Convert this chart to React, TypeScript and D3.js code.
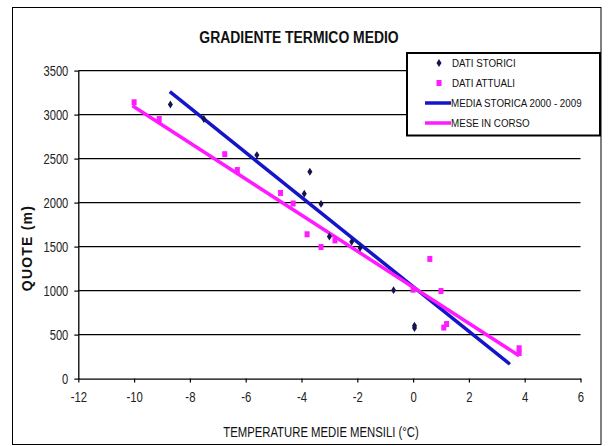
import { useRef, useEffect } from 'react';
import * as d3 from 'd3';

const W = 609;
const H = 446;
const PLOT = { left: 78.3, right: 580.5, top: 70.6, bottom: 378.6 };
const FONT = "'Liberation Sans', Arial, sans-serif";

// DATI STORICI (temperatura media mensile, quota)
const storiciT = [-8.7, -7.5, -5.6, -3.7, -3.9, -3.3, -3.0, -2.2, -1.9, -0.7, 0.05, 0.05];
const storiciQ = [3115, 2950, 2540, 2350, 2100, 1985, 1615, 1555, 1485, 1005, 600, 575];

// DATI ATTUALI
const attualiT = [-10.0, -9.1, -6.75, -6.3, -4.75, -4.3, -3.8, -3.3, -2.8, 0.0, 0.6, 1.0, 1.1, 1.2, 3.8, 3.8];
const attualiQ = [3140, 2950, 2550, 2370, 2110, 1990, 1640, 1495, 1570, 1010, 1360, 995, 580, 620, 345, 290];

// trend lines (end points)
const mediaStoricaT = [-8.72, 3.47];
const mediaStoricaQ = [3260, 163];
const meseT = [-10.06, 3.8];
const meseQ = [3100, 260];

const xTicks = [-12, -10, -8, -6, -4, -2, 0, 2, 4, 6];
const yTicks = [0, 500, 1000, 1500, 2000, 2500, 3000, 3500];

const legendLabels = ['DATI STORICI', 'DATI ATTUALI', 'MEDIA STORICA 2000 - 2009', 'MESE IN CORSO'];

const BLUE = '#1414c8';
const PINK = '#ff1aff';
const NAVY = '#141450';

export default function App() {
  const svgRef = useRef<SVGSVGElement>(null);

  useEffect(() => {
    const svg = d3.select(svgRef.current);
    svg.selectAll('*').remove();

    const x = d3.scaleLinear().domain([-12, 6]).range([PLOT.left, PLOT.right]);
    const y = d3.scaleLinear().domain([0, 3500]).range([PLOT.bottom, PLOT.top]);

    svg.append('rect').attr('width', W).attr('height', H).attr('fill', '#fff');
    svg.append('rect')
      .attr('x', 12.5).attr('y', 7.5).attr('width', 588.5).attr('height', 437)
      .attr('fill', 'none').attr('stroke', '#000').attr('stroke-width', 1);

    // gridlines
    svg.append('g').selectAll('line').data(yTicks.filter(d => d > 0)).enter()
      .append('line')
      .attr('x1', PLOT.left).attr('x2', PLOT.right)
      .attr('y1', d => y(d)).attr('y2', d => y(d))
      .attr('stroke', '#000').attr('stroke-width', 1.3);

    const yAxis = svg.append('g').attr('transform', `translate(${PLOT.left},0)`)
      .call(d3.axisLeft(y).tickValues(yTicks).tickSize(4).tickSizeOuter(0).tickPadding(6)
        .tickFormat(d3.format('d')));
    const xAxis = svg.append('g').attr('transform', `translate(0,${PLOT.bottom})`)
      .call(d3.axisBottom(x).tickValues(xTicks).tickSize(4).tickSizeOuter(0).tickPadding(9)
        .tickFormat(d => String(d)));
    [yAxis, xAxis].forEach(a => {
      a.selectAll('path').attr('stroke', '#000').attr('stroke-width', 1.3);
      a.selectAll('line').attr('stroke', '#000').attr('stroke-width', 1.2);
      a.selectAll('text').attr('font-family', FONT).attr('font-size', 14.5).attr('fill', '#222');
    });
    // narrow look: squeeze tick labels horizontally
    yAxis.selectAll('text').attr('x', -10 / 0.77).attr('transform', 'scale(0.77,1)');
    xAxis.selectAll('text').attr('transform', 'scale(0.78,1)');

    // trend lines
    const line = d3.line<[number, number]>().x(d => x(d[0])).y(d => y(d[1]));
    svg.append('path')
      .attr('d', line(mediaStoricaT.map((t, i) => [t, mediaStoricaQ[i]] as [number, number])))
      .attr('stroke', BLUE).attr('stroke-width', 3.5).attr('fill', 'none');
    svg.append('path')
      .attr('d', line(meseT.map((t, i) => [t, meseQ[i]] as [number, number])))
      .attr('stroke', PINK).attr('stroke-width', 3.5).attr('fill', 'none');

    // points
    const diamond = d3.symbol().type(d3.symbolDiamond).size(22);
    svg.append('g').selectAll('path').data(storiciT).enter()
      .append('path')
      .attr('d', diamond)
      .attr('transform', (d, i) => `translate(${x(d)},${y(storiciQ[i])}) scale(1,0.9)`)
      .attr('fill', NAVY);
    svg.append('g').selectAll('rect').data(attualiT).enter()
      .append('rect')
      .attr('x', d => x(d) - 2.5).attr('y', (d, i) => y(attualiQ[i]) - 3)
      .attr('width', 5).attr('height', 6)
      .attr('fill', PINK);

    // titles
    svg.append('text').attr('transform', 'translate(299,43) scale(0.87,1)').attr('text-anchor', 'middle')
      .attr('font-family', FONT).attr('font-weight', 'bold').attr('font-size', 16)
      .attr('fill', '#111').text('GRADIENTE TERMICO MEDIO');
    svg.append('text').attr('transform', 'translate(32,248) rotate(-90)').attr('text-anchor', 'middle')
      .attr('font-family', FONT).attr('font-weight', 'bold')
      .attr('font-size', 14).attr('letter-spacing', 1.2)
      .attr('fill', '#111').text('QUOTE (m)');
    svg.append('text').attr('transform', 'translate(321,437) scale(0.81,1)').attr('text-anchor', 'middle')
      .attr('font-family', FONT).attr('font-size', 14)
      .attr('fill', '#111').text('TEMPERATURE  MEDIE MENSILI (°C)');

    // legend
    const lg = svg.append('g');
    lg.append('rect').attr('x', 407).attr('y', 53).attr('width', 193).attr('height', 82.5)
      .attr('fill', '#fff').attr('stroke', '#000').attr('stroke-width', 2);
    const rowY = (i: number) => 63 + i * 20;
    lg.append('path').attr('d', diamond)
      .attr('transform', `translate(439,${rowY(0)}) scale(1,0.9)`).attr('fill', NAVY);
    lg.append('rect').attr('x', 436.5).attr('y', rowY(1) - 3).attr('width', 5).attr('height', 6).attr('fill', PINK);
    lg.append('line').attr('x1', 425).attr('x2', 451).attr('y1', rowY(2)).attr('y2', rowY(2))
      .attr('stroke', BLUE).attr('stroke-width', 3.5);
    lg.append('line').attr('x1', 425).attr('x2', 451).attr('y1', rowY(3)).attr('y2', rowY(3))
      .attr('stroke', PINK).attr('stroke-width', 3.5);
    lg.selectAll('text.lbl').data(legendLabels).enter()
      .append('text').attr('class', 'lbl')
      .attr('transform', (d, i) => `translate(${i < 2 ? 452 : 451},${rowY(i) + 4}) scale(0.85,1)`)
      .attr('font-family', FONT).attr('font-size', 11.5).attr('fill', '#111')
      .text(d => d);
  }, []);

  return <svg ref={svgRef} width={W} height={H} style={{ position: 'absolute', left: 0, top: 0 }} />;
}
